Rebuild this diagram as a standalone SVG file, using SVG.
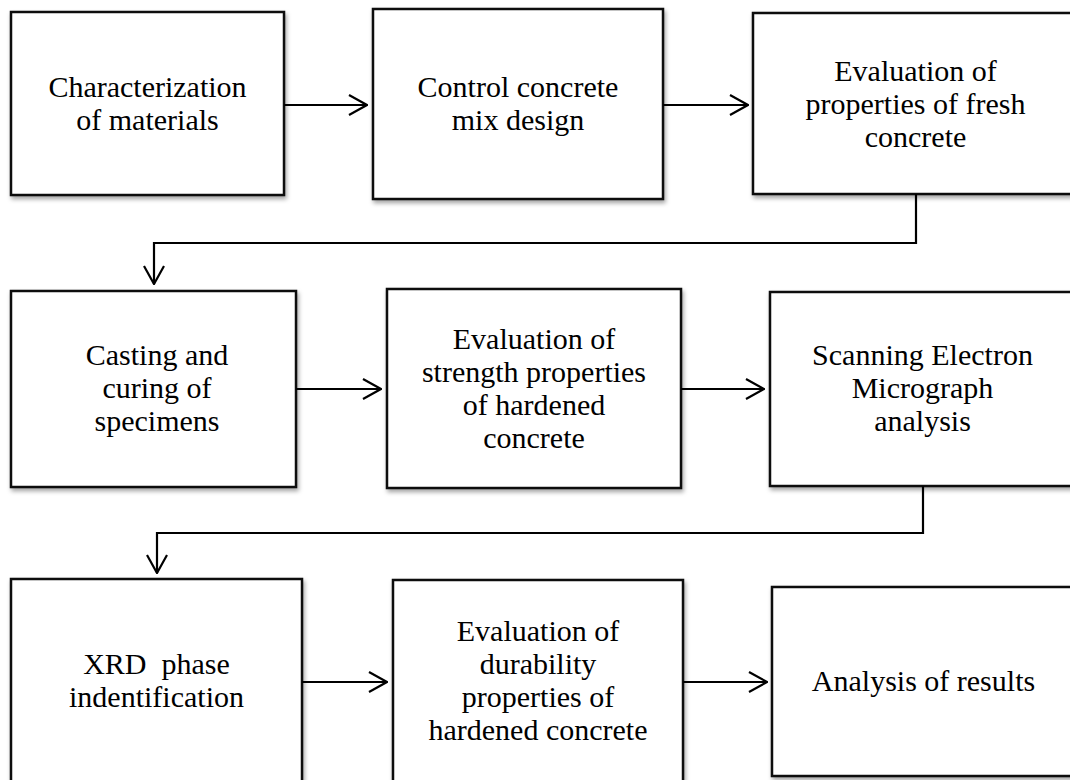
<svg xmlns="http://www.w3.org/2000/svg" width="1070" height="780" viewBox="0 0 1070 780">
<defs>
<filter id="sh" x="-10%" y="-10%" width="130%" height="130%">
<feDropShadow dx="1.5" dy="3" stdDeviation="2" flood-color="#000" flood-opacity="0.35"/>
</filter>
<marker id="ah" viewBox="0 0 20 22" refX="19" refY="11" markerWidth="20" markerHeight="22" markerUnits="userSpaceOnUse" orient="auto">
<path d="M1,1 L19,11 L1,21" fill="none" stroke="#000" stroke-width="2.2"/>
</marker>
<style>
.box{fill:#fff;stroke:#111;stroke-width:2.5;filter:url(#sh)}
.t{font-family:"Liberation Serif","Times New Roman",serif;font-size:30px;fill:#000;text-anchor:middle}
.c{fill:none;stroke:#000;stroke-width:2.2}
</style>
</defs>
<rect width="1070" height="780" fill="#fff"/>
<g id="n1"><rect class="box" x="11" y="12" width="273" height="183"/>
<text class="t" x="147.5" y="97">Characterization<tspan x="147.5" dy="33">of materials</tspan></text></g>
<g id="n2"><rect class="box" x="373" y="9" width="290" height="190"/>
<text class="t" x="518" y="97">Control concrete<tspan x="518" dy="33">mix design</tspan></text></g>
<g id="n3"><rect class="box" x="753" y="13" width="325" height="181"/>
<text class="t" x="915.5" y="81">Evaluation of<tspan x="915.5" dy="33">properties of fresh</tspan><tspan x="915.5" dy="33">concrete</tspan></text></g>
<g id="n4"><rect class="box" x="11" y="291" width="285" height="196"/>
<text class="t" x="157" y="365">Casting and<tspan x="157" dy="33">curing of</tspan><tspan x="157" dy="33">specimens</tspan></text></g>
<g id="n5"><rect class="box" x="387" y="289" width="294" height="199"/>
<text class="t" x="534" y="349">Evaluation of<tspan x="534" dy="33">strength properties</tspan><tspan x="534" dy="33">of hardened</tspan><tspan x="534" dy="33">concrete</tspan></text></g>
<g id="n6"><rect class="box" x="770" y="292" width="305" height="194"/>
<text class="t" x="922.5" y="365">Scanning Electron<tspan x="922.5" dy="33">Micrograph</tspan><tspan x="922.5" dy="33">analysis</tspan></text></g>
<g id="n7"><rect class="box" x="11" y="579" width="291" height="204"/>
<text class="t" x="156.5" y="674" xml:space="preserve">XRD  phase<tspan x="156.5" dy="33">indentification</tspan></text></g>
<g id="n8"><rect class="box" x="393" y="580" width="290" height="203"/>
<text class="t" x="538" y="641">Evaluation of<tspan x="538" dy="33">durability</tspan><tspan x="538" dy="33">properties of</tspan><tspan x="538" dy="33">hardened concrete</tspan></text></g>
<g id="n9"><rect class="box" x="772" y="587" width="303" height="189"/>
<text class="t" x="923.5" y="691">Analysis of results</text></g>
<g id="connectors">
<path class="c" d="M284,105 H367" marker-end="url(#ah)"/>
<path class="c" d="M663,105 H748" marker-end="url(#ah)"/>
<path class="c" d="M916,194 V243 H154 V284" marker-end="url(#ah)"/>
<path class="c" d="M296,389 H381" marker-end="url(#ah)"/>
<path class="c" d="M681,389 H764" marker-end="url(#ah)"/>
<path class="c" d="M923,486 V533 H157 V573" marker-end="url(#ah)"/>
<path class="c" d="M302,682 H387" marker-end="url(#ah)"/>
<path class="c" d="M683,682 H767" marker-end="url(#ah)"/>
</g>
</svg>
